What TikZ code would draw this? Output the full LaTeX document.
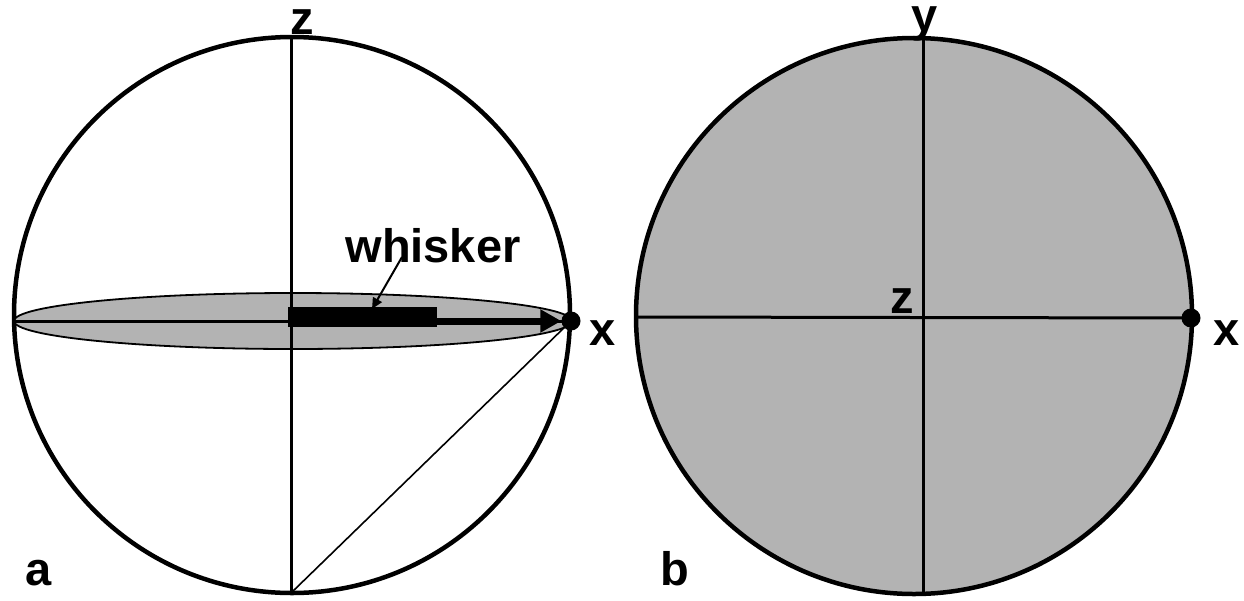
\documentclass[tikz,border=0pt]{standalone}
\usepackage{fontspec}
\setmainfont{Liberation Sans}
\usetikzlibrary{arrows.meta}
\definecolor{fillgray}{RGB}{179,179,179}
\tikzset{
  rim/.style={line width=4.5pt},
  axis/.style={line width=3pt},
  lbl/.style={font=\fontsize{47}{47}\selectfont\bfseries, inner sep=0pt, anchor=base},
  pointdot/.style={circle, fill=black, minimum size=19pt, inner sep=0pt},
}
\begin{document}
\begin{tikzpicture}[x=1pt,y=-1pt]
\useasboundingbox (0,0) rectangle (1244,600);
% ---------- panel a ----------
\draw[rim, fill=white] (292,315) circle (278);
\draw[line width=1.8pt, fill=fillgray] (293,321) ellipse (279 and 28);
\coordinate (aTop) at (291,37);
\coordinate (aBot) at (291,593);
\coordinate (aLeft) at (14,321);
\node[pointdot] (ax) at (571,321) {};
\draw[axis] (aTop) -- (aBot);
\draw[axis] (aLeft) -- (ax.center);
\draw[line width=1.6pt] (aBot) -- (ax.center);
\node[fill=black, minimum width=149pt, minimum height=20pt, inner sep=0pt] (bar) at (362.5,317) {};
\draw[line width=7pt, -{Triangle[length=21pt,width=22pt]}] (bar.east |- ax.west) -- (ax.west);
\node[lbl] (whisker) at (433,262) {whisker};
\coordinate (wtip) at (372,309);
\draw[line width=2pt, -{Triangle[length=11pt,width=10pt]}] (402,257) -- (wtip);
\node[lbl] (za) at (302,34) {z};
\node[lbl] (xa) at (603,345) {x};
\node[lbl] (la) at (39,585) {a};
% ---------- panel b ----------
\draw[rim, fill=fillgray] (914,316) circle (278);
\coordinate (bTop) at (923,38);
\coordinate (bBot) at (923,594);
\coordinate (bLeft) at (636,317);
\node[pointdot] (bx) at (1191,318) {};
\draw[axis] (bTop) -- (bBot);
\draw[axis] (bLeft) -- (bx.center);
\node[lbl] (yb) at (925,31) {y};
\node[lbl] (zb) at (902,313) {z};
\node[lbl] (xb) at (1227,345) {x};
\node[lbl] (lb) at (675,585) {b};
\end{tikzpicture}
\end{document}
